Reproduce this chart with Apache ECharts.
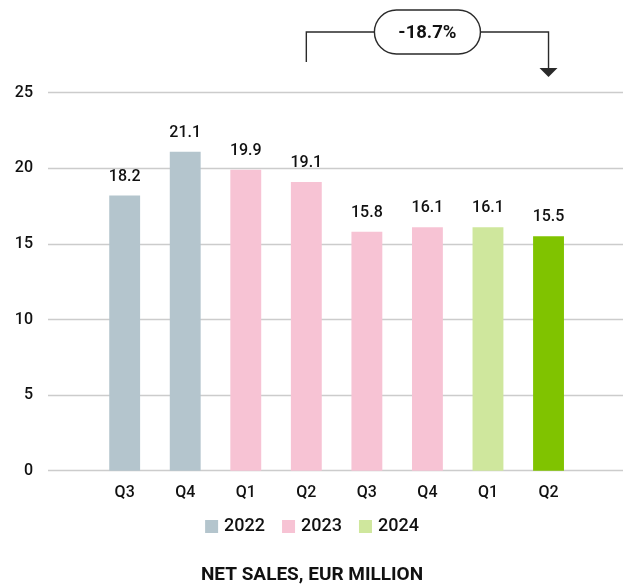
<!DOCTYPE html>
<html>
<head>
<meta charset="utf-8">
<script src="https://cdn.jsdelivr.net/npm/echarts@6/dist/echarts.min.js"></script>
<style>html,body{margin:0;padding:0;background:#fff}#c{width:624px;height:586px}</style>
</head>
<body>
<div id="c"></div>
<script>
const categories = ['Q3', 'Q4', 'Q1', 'Q2', 'Q3', 'Q4', 'Q1', 'Q2'];
const years = ['2022', '2023', '2024'];
const sales2022 = [18.2, 21.1, '-', '-', '-', '-', '-', '-'];
const sales2023 = ['-', '-', 19.9, 19.1, 15.8, 16.1, '-', '-'];
const sales2024 = ['-', '-', '-', '-', '-', '-', 16.1, 15.5];
const yTicks = [0, 5, 10, 15, 20, 25];
const changeLabel = '-18.7%';
const changeFrom = 3;
const changeTo = 7;
const highlightIndex = 7;
const chartTitle = 'NET SALES, EUR MILLION';

const colors = ['#b4c5cd', '#f7c3d4', '#cfe79d'];
const highlightColor = '#80c300';
const FONT = 'Roboto';
const TXT = '#111';
const W = 500;

const chart = echarts.init(document.getElementById('c'), null, {renderer: 'canvas'});
const seriesData = [sales2022, sales2023, sales2024];

const series = years.map((y, i) => ({
  name: y,
  type: 'bar',
  stack: 'all',
  xAxisIndex: 0,
  yAxisIndex: 0,
  barWidth: '51%',
  itemStyle: {color: colors[i]},
  data: seriesData[i].map((v, k) => (k === highlightIndex && v !== '-') ? {value: v, itemStyle: {color: highlightColor}} : v),
  label: {
    show: true, position: 'top', distance: 11,
    fontFamily: FONT, fontSize: 16, fontWeight: W, color: TXT,
    formatter: p => (typeof p.value === 'number' ? p.value.toFixed(1) : '')
  }
}));

const gridTop = 92.7, gridBottom = 586 - 470.7;

chart.setOption({
  animation: false,
  textStyle: {fontFamily: FONT},
  grid: [
    {left: 94.4, right: 624 - 578.8, top: gridTop, bottom: gridBottom},
    {left: 48, right: 1, top: gridTop, bottom: gridBottom}
  ],
  legend: {
    data: years, top: 512.5, left: 'center',
    icon: 'rect', itemWidth: 13, itemHeight: 13, itemGap: 17,
    textStyle: {fontFamily: FONT, fontSize: 18, fontWeight: W, color: TXT, padding: [0, 0, 0, 1]}
  },
  title: {
    text: chartTitle, left: 'center', top: 561,
    textStyle: {fontFamily: FONT, fontSize: 19, fontWeight: 'bold', color: TXT}
  },
  xAxis: [
    {type: 'category', gridIndex: 0, data: categories,
     axisLine: {show: false}, axisTick: {show: false},
     axisLabel: {fontFamily: FONT, fontSize: 16, fontWeight: W, color: TXT, margin: 14}},
    {type: 'value', gridIndex: 1, show: false, min: 0, max: 1}
  ],
  yAxis: [
    {type: 'value', gridIndex: 0, min: yTicks[0], max: yTicks[yTicks.length - 1], interval: 5, show: false},
    {type: 'value', gridIndex: 1, min: yTicks[0], max: yTicks[yTicks.length - 1], interval: 5,
     axisLine: {show: false}, axisTick: {show: false},
     axisLabel: {fontFamily: FONT, fontSize: 16, fontWeight: W, color: TXT, margin: 15},
     splitLine: {lineStyle: {color: '#cccccc', width: 1.3}}}
  ],
  series: series
});

// annotation arrow between the two Q2 bars
const x1 = chart.convertToPixel({xAxisIndex: 0}, changeFrom);
const x2 = chart.convertToPixel({xAxisIndex: 0}, changeTo);
const mid = (x1 + x2) / 2;
const lineY = 32, pillW = 106, pillH = 44;
const stroke = {stroke: '#2a2a2a', lineWidth: 1.4, fill: null};
chart.setOption({
  graphic: [
    {type: 'polyline', shape: {points: [[x1, 62], [x1, lineY], [mid - pillW / 2, lineY]]}, style: stroke, silent: true},
    {type: 'polyline', shape: {points: [[mid + pillW / 2, lineY], [x2, lineY], [x2, 69]]}, style: stroke, silent: true},
    {type: 'polygon', shape: {points: [[x2 - 9, 68], [x2 + 9, 68], [x2, 77]]}, style: {fill: '#2a2a2a'}, silent: true},
    {type: 'rect', shape: {x: mid - pillW / 2, y: lineY - pillH / 2, width: pillW, height: pillH, r: pillH / 2},
     style: {stroke: '#2a2a2a', lineWidth: 1.4, fill: '#fff'}, silent: true},
    {type: 'text', x: mid, y: lineY + 1, style: {text: changeLabel, fontFamily: FONT, fontSize: 18.5, fontWeight: 'bold',
      fill: TXT, align: 'center', verticalAlign: 'middle'}, silent: true}
  ]
});
</script>
</body>
</html>
